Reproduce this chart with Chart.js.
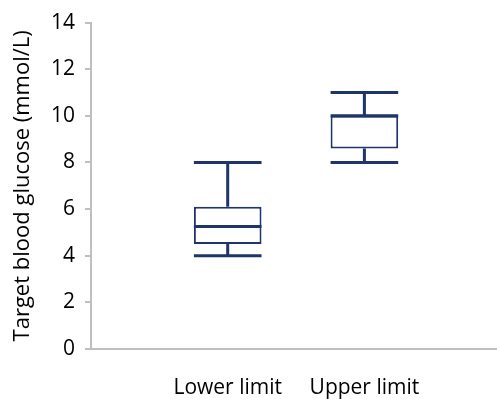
<!DOCTYPE html>
<html>
<head>
<meta charset="utf-8">
<script src="https://cdn.jsdelivr.net/npm/chart.js@4.4.1/dist/chart.umd.min.js"></script>
<style>
  html, body { margin: 0; padding: 0; background: #fff; }
  #wrap { width: 497px; height: 399px; }
</style>
</head>
<body>
<div id="wrap"><canvas id="boxChart"></canvas></div>
<script>
const categories = ["Lower limit", "Upper limit"];
const mins = [4, 8];
const q1 = [4.5, 8.6];
const medians = [5.25, 10];
const q3 = [6.1, 10];
const maxs = [8, 11];
const yTicks = [0, 2, 4, 6, 8, 10, 12, 14];

const navy = "#1f3468";
const axisGray = "#bfbfbf";

// whiskers, caps and medians drawn on top of the floating bars
const whiskerPlugin = {
  id: "whiskers",
  afterDatasetsDraw(chart) {
    const meta = chart.getDatasetMeta(0);
    const y = chart.scales.y;
    const ctx = chart.ctx;
    ctx.save();
    ctx.strokeStyle = navy;
    ctx.lineWidth = 3;
    meta.data.forEach((bar, i) => {
      const half = bar.width / 2;
      const yMin = y.getPixelForValue(mins[i]);
      const yMax = y.getPixelForValue(maxs[i]);
      const yQ1 = y.getPixelForValue(q1[i]);
      const yQ3 = y.getPixelForValue(q3[i]);
      const yMed = y.getPixelForValue(medians[i]);
      ctx.beginPath();
      ctx.moveTo(bar.x, yMax); ctx.lineTo(bar.x, yQ3);
      ctx.moveTo(bar.x, yMin); ctx.lineTo(bar.x, yQ1);
      ctx.moveTo(bar.x - half, yMax); ctx.lineTo(bar.x + half, yMax);
      ctx.moveTo(bar.x - half, yMin); ctx.lineTo(bar.x + half, yMin);
      ctx.moveTo(bar.x - half, yMed); ctx.lineTo(bar.x + half, yMed);
      ctx.stroke();
    });
    ctx.restore();
  }
};

const ctx = document.getElementById("boxChart").getContext("2d");
new Chart(ctx, {
  type: "bar",
  data: {
    datasets: [{
      data: categories.map((c, i) => ({ x: i + 1, y: [q1[i], q3[i]] })),
      backgroundColor: "#ffffff",
      borderColor: navy,
      borderWidth: 2,
      borderSkipped: false,
      barPercentage: 0.51,
      categoryPercentage: 1
    }]
  },
  options: {
    responsive: true,
    maintainAspectRatio: false,
    animation: false,
    layout: { padding: { top: 6, right: 0, left: 0, bottom: 0 } },
    plugins: {
      legend: { display: false },
      tooltip: { enabled: false }
    },
    scales: {
      x: {
        type: "linear",
        offset: false,
        min: 0,
        max: 2.97,
        afterFit: (scale) => {
          scale.height = 50;
          scale.paddingLeft = 0;
          scale.paddingRight = 0;
        },
        grid: { display: false, offset: false },
        border: { display: true, color: axisGray, width: 2 },
        ticks: {
          stepSize: 1,
          padding: 18,
          maxRotation: 0,
          minRotation: 0,
          autoSkip: false,
          color: "#000",
          font: { family: "Open Sans", size: 21 },
          callback: (v) => categories[v - 1] || ""
        }
      },
      y: {
        min: 0,
        max: 14,
        afterFit: (scale) => { scale.width = 91; },
        afterBuildTicks: (scale) => { scale.ticks = yTicks.map(v => ({ value: v })); },
        grid: { drawOnChartArea: false, drawTicks: true, tickLength: 6, color: axisGray, lineWidth: 2 },
        border: { display: true, color: axisGray, width: 2 },
        ticks: {
          padding: 10,
          color: "#000",
          font: { family: "Open Sans", size: 21 }
        },
        title: {
          display: true,
          text: "Target blood glucose (mmol/L)",
          color: "#000",
          font: { family: "Open Sans", size: 22 },
          padding: { top: 10, bottom: 6 }
        }
      }
    }
  },
  plugins: [whiskerPlugin]
});
</script>
</body>
</html>
